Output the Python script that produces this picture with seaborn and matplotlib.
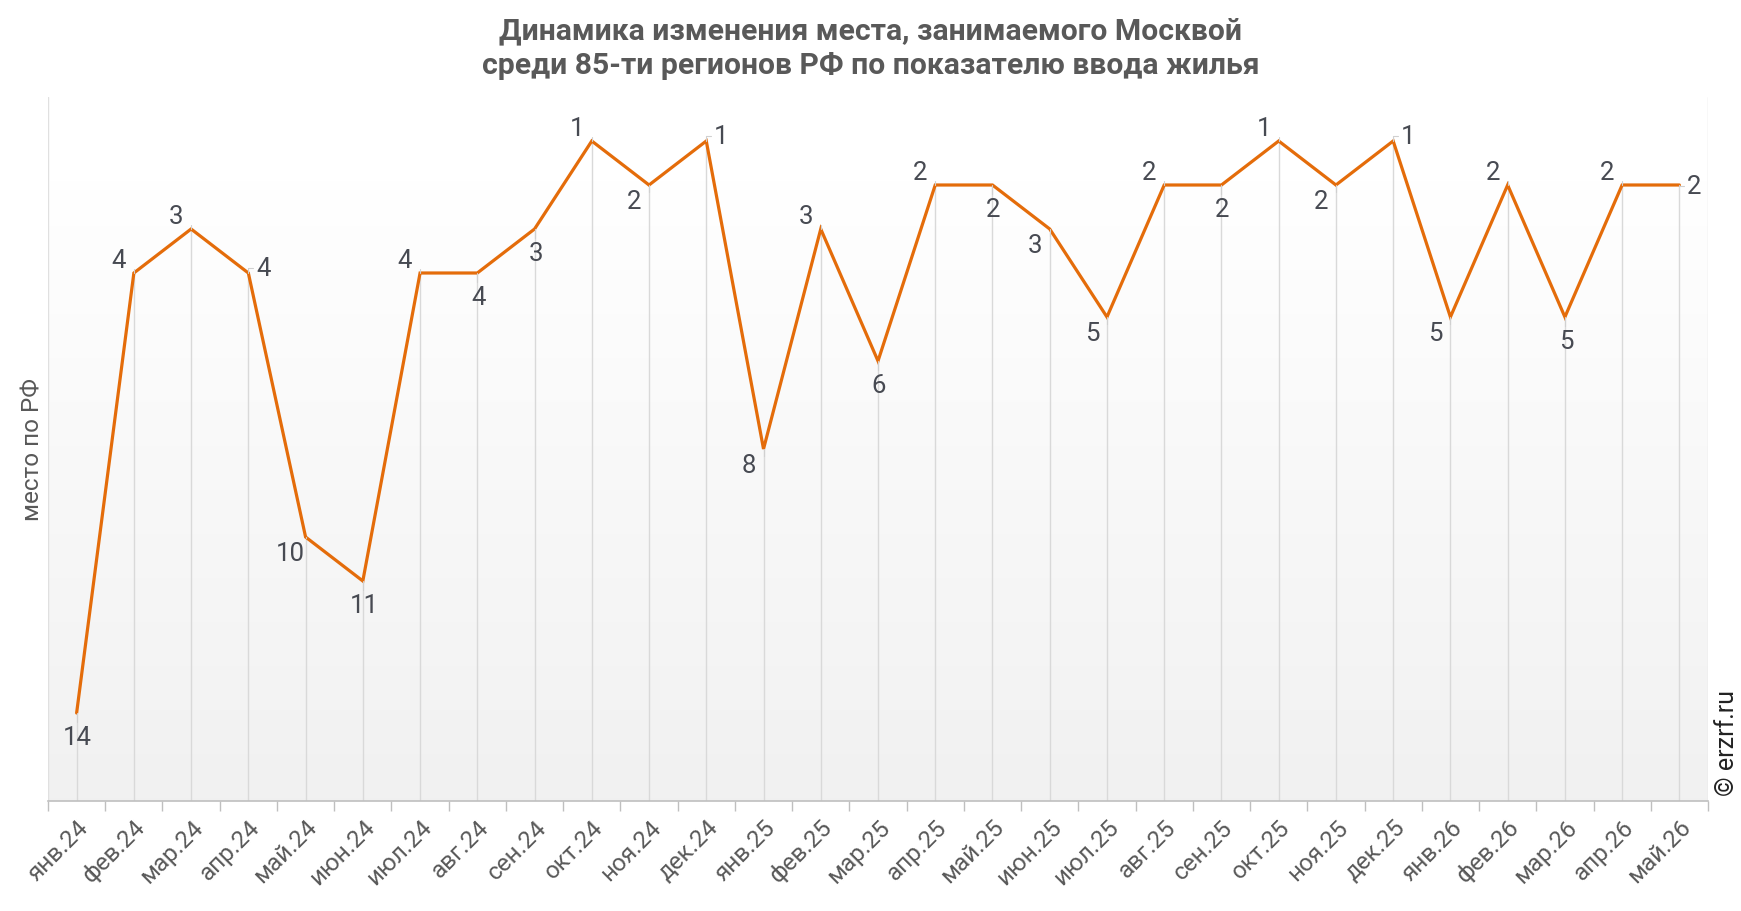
import numpy as np
import pandas as pd
import matplotlib
matplotlib.use("Agg")
import matplotlib.pyplot as plt
import seaborn as sns

months = ["янв.24", "фев.24", "мар.24", "апр.24", "май.24", "июн.24", "июл.24", "авг.24",
          "сен.24", "окт.24", "ноя.24", "дек.24", "янв.25", "фев.25", "мар.25", "апр.25",
          "май.25", "июн.25", "июл.25", "авг.25", "сен.25", "окт.25", "ноя.25", "дек.25",
          "янв.26", "фев.26", "мар.26", "апр.26", "май.26"]
ranks = [14, 4, 3, 4, 10, 11, 4, 4, 3, 1, 2, 1, 8, 3, 6, 2, 2, 3, 5, 2, 2, 1, 2, 1, 5, 2, 5, 2, 2]
label_side = ["b", "al", "al", "ar", "bl", "b", "al", "b", "b", "al", "bl", "ar", "bl", "al", "b",
              "al", "b", "bl", "bl", "al", "b", "al", "bl", "ar", "bl", "al", "b", "al", "r"]

title = "Динамика изменения места, занимаемого Москвой\nсреди 85-ти регионов РФ по показателю ввода жилья"
ylabel = "место по РФ"
watermark = "© erzrf.ru"

sns.set_theme(style="white")
plt.rcParams["font.family"] = ["Roboto", "DejaVu Sans"]

W, H = 1741, 912
fig = plt.figure(figsize=(W / 100, H / 100), dpi=100)
L, R, T, B = 48, 1708, 98, 802
ax = fig.add_axes([L / W, 1 - B / H, (R - L) / W, (B - T) / H])

# gradient background
grad = np.linspace(0, 1, 256).reshape(-1, 1)
top_col = np.array([1.0, 1.0, 1.0])
bot_col = np.array([0.945, 0.945, 0.945])
ramp = np.clip((grad - 0.12) / 0.88, 0, 1)
img = top_col * (1 - ramp[..., None]) + bot_col * ramp[..., None]
img = img.reshape(256, 1, 3)
ax.imshow(img, extent=[0, 1, 0, 1], transform=ax.transAxes, aspect="auto", zorder=0, origin="upper")

df = pd.DataFrame({"pos": np.arange(len(months)), "rank": ranks, "month": months})

# drop lines
ax.vlines(df["pos"], df["rank"], 16, colors="#d9d9d9", linewidth=1.0, zorder=1)

sns.lineplot(data=df, x="pos", y="rank", ax=ax, color="#e46c0a", linewidth=2.3, zorder=3,
             solid_joinstyle="miter")

offsets = {"al": (-15, 13), "ar": (15, 5), "r": (15, -1), "b": (1, -24), "bl": (-15, -16)}
for p, v, s in zip(df["pos"], df["rank"], label_side):
    dx, dy = offsets[s]
    ax.annotate(str(v), xy=(p, v), xytext=(dx, dy), textcoords="offset pixels",
                ha="center", va="center", fontsize=18.5, color="#474a52", zorder=5,
                arrowprops=dict(arrowstyle="-", color="#d0d0d0", lw=0.8,
                                shrinkA=7, shrinkB=0,
                                connectionstyle="angle,angleA=0,angleB=90,rad=0"))

ax.set_xlim(-0.5, len(months) - 0.5)
ax.set_ylim(16, 0)
ax.set_xticks(df["pos"])
ax.set_xticklabels(months, rotation=45, ha="right", va="top", rotation_mode="anchor",
                   fontsize=17.5, color="#595959")
ax.set_xticks(np.arange(-0.5, len(months)), minor=True)
ax.tick_params(axis="x", which="major", length=0, pad=10)
ax.tick_params(axis="x", which="minor", length=7, width=1, color="#bfbfbf", bottom=True)
ax.set_yticks([])
ax.set_xlabel("")
ax.set_ylabel(ylabel, fontsize=17.5, color="#595959", va="center")
ax.yaxis.set_label_coords(-15 / (R - L), 0.5)
for side in ["left", "right", "top"]:
    ax.spines[side].set_visible(False)
ax.spines["bottom"].set_color("#bfbfbf")
ax.spines["bottom"].set_linewidth(1.2)
ax.axvline(-0.5, color="#e0e0e0", lw=1, zorder=1)
ax.axvline(len(months) - 0.5, color="#e0e0e0", lw=1, zorder=1)

fig.text(0.5, 1 - 49 / H, title, ha="center", va="center", fontsize=21.7, fontweight="bold",
         color="#595959", linespacing=1.3)
fig.text(1727 / W, 1 - 743 / H, watermark, rotation=90, ha="center", va="center",
         fontsize=18, color="#222222")

fig.savefig("out.png", dpi=100)
